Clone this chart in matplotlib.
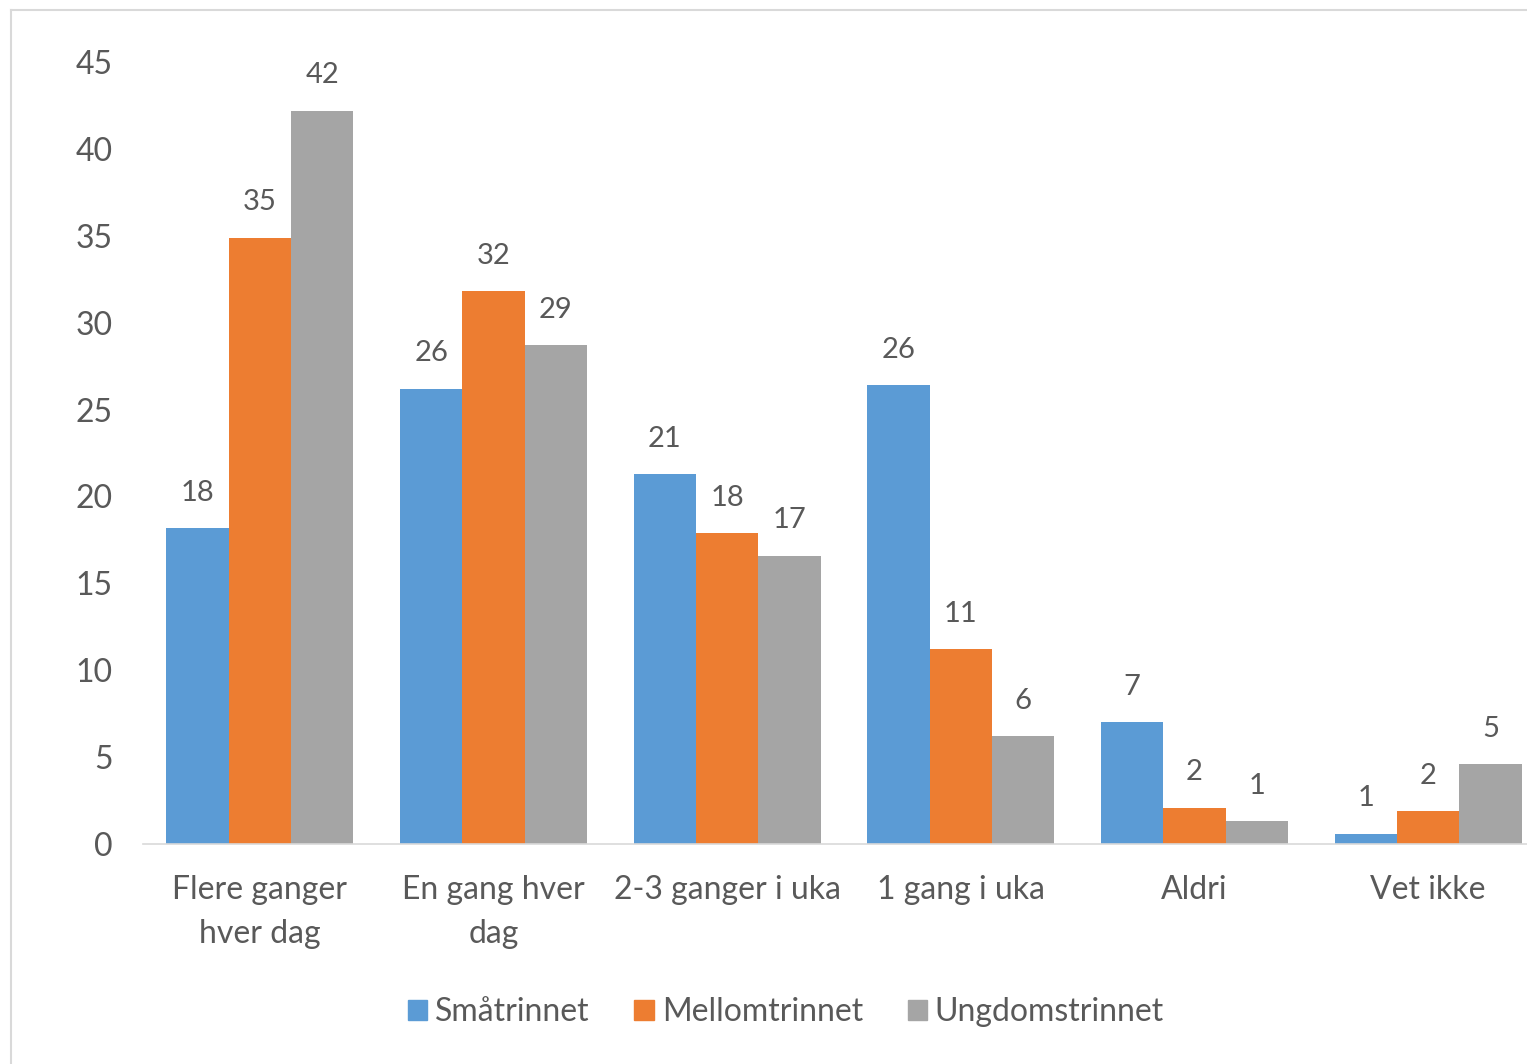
import matplotlib.pyplot as plt
import numpy as np
from matplotlib.lines import Line2D

kategorier = ["Flere ganger\nhver dag", "En gang hver\ndag", "2-3 ganger i uka",
              "1 gang i uka", "Aldri", "Vet ikke"]
serier = ["Småtrinnet", "Mellomtrinnet", "Ungdomstrinnet"]
smaatrinnet = [18.2, 26.2, 21.3, 26.4, 7.0, 0.6]
mellomtrinnet = [34.9, 31.8, 17.9, 11.2, 2.1, 1.9]
ungdomstrinnet = [42.2, 28.7, 16.6, 6.2, 1.3, 4.6]
yticks = [0, 5, 10, 15, 20, 25, 30, 35, 40, 45]

farger = ["#5B9BD5", "#ED7D31", "#A5A5A5"]
tekst = "#595959"

plt.rcParams['font.family'] = ['Lato', 'DejaVu Sans']

W, H = 1527, 1064
fig = plt.figure(figsize=(W / 100, H / 100), dpi=100)
ax = fig.add_axes([143 / W, 1 - 844 / H, (1545 - 143) / W, (844 - 62) / H])

x = np.arange(len(kategorier))
bw = 0.267
for i, (navn, verdier) in enumerate(zip(serier, [smaatrinnet, mellomtrinnet, ungdomstrinnet])):
    pos = x + (i - 1) * bw
    ax.bar(pos, verdier, bw, color=farger[i], label=navn)
    for px, v in zip(pos, verdier):
        ax.annotate(f"{round(v)}", (px, v), xytext=(0, 16), textcoords="offset points",
                    ha="center", va="bottom", fontsize=21, color=tekst)

ax.set_xlim(-0.5, len(kategorier) - 0.5)
ax.set_ylim(0, 45)
ax.set_yticks(yticks)
ax.set_xticks(x)
ax.set_xticklabels(kategorier, linespacing=1.6)
ax.tick_params(axis="both", length=0, labelsize=23, colors=tekst)
ax.tick_params(axis="y", pad=22)
ax.tick_params(axis="x", pad=22)
for s in ["top", "right", "left"]:
    ax.spines[s].set_visible(False)
ax.spines["bottom"].set_color("#D9D9D9")
ax.spines["bottom"].set_linewidth(1.2)

# ramme rundt diagrammet
fig.add_artist(Line2D([11 / W, 1], [1 - 10 / H, 1 - 10 / H], color="#D9D9D9", lw=1.5))
fig.add_artist(Line2D([11 / W, 11 / W], [0, 1 - 10 / H], color="#D9D9D9", lw=1.5))

handles = [plt.Rectangle((0, 0), 1, 1, color=c) for c in farger]
fig.legend(handles, serier, loc="center", bbox_to_anchor=(786 / W, 1 - 1012 / H), ncol=3,
           frameon=False, fontsize=23, labelcolor=tekst, handlelength=0.6, handleheight=0.6,
           handletextpad=0.25, columnspacing=1.4)

fig.savefig("out.png", dpi=100)
